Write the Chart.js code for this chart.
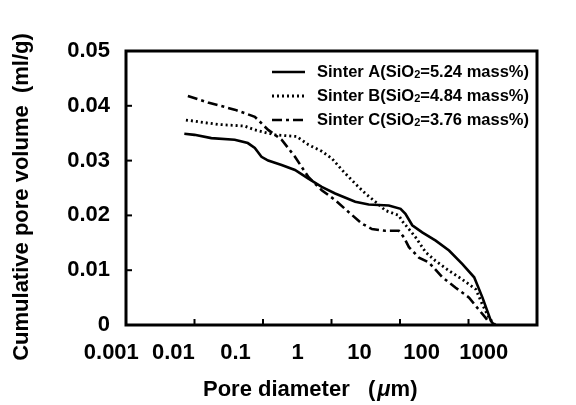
<!DOCTYPE html>
<html>
<head>
<meta charset="utf-8">
<script src="https://cdn.jsdelivr.net/npm/chart.js@4"></script>
<style>
  body { margin: 0; background: #fff; }
  #wrap { width: 576px; height: 405px; }
</style>
</head>
<body>
<div id="wrap"><canvas id="pore-chart" width="576" height="405"></canvas></div>
<script>
// pore diameter (um) and cumulative pore volume (ml/g)
const sinterA_d = [0.0071, 0.01, 0.0176, 0.0386, 0.060, 0.076, 0.095, 0.119, 0.187, 0.293, 0.46, 0.72, 1.13, 2.22, 3.49, 6.86, 10.2, 12.0, 15.1, 21.1, 33.2, 52, 81.5, 121, 160, 213, 238];
const sinterA_v = [0.0349, 0.0347, 0.0341, 0.0338, 0.0332, 0.0323, 0.0307, 0.0300, 0.0292, 0.0283, 0.0267, 0.0252, 0.0240, 0.0225, 0.0220, 0.0218, 0.0212, 0.0203, 0.0182, 0.0169, 0.0154, 0.0136, 0.0111, 0.0087, 0.0050, 0.0007, 0];

const sinterB_d = [0.0075, 0.022, 0.054, 0.076, 0.149, 0.31, 0.46, 0.72, 1.01, 1.42, 2.22, 3.12, 4.37, 6.12, 9.6, 10.7, 12.7, 16.9, 23.6, 33, 52, 81.5, 128, 160, 200, 245];
const sinterB_v = [0.0374, 0.0366, 0.0363, 0.0356, 0.0347, 0.0344, 0.0329, 0.0317, 0.0304, 0.0283, 0.0258, 0.0240, 0.0225, 0.0209, 0.0200, 0.0190, 0.0179, 0.0160, 0.0133, 0.0117, 0.0099, 0.0083, 0.0065, 0.0037, 0.0013, 0];

const sinterC_d = [0.008, 0.0157, 0.0386, 0.076, 0.119, 0.187, 0.293, 0.46, 0.72, 1.13, 1.78, 2.79, 3.9, 6.1, 9.6, 11.4, 13.5, 18.9, 26.5, 41.6, 65, 102, 135, 178, 200];
const sinterC_v = [0.0418, 0.0406, 0.0393, 0.0380, 0.0356, 0.0338, 0.0307, 0.0270, 0.0246, 0.0228, 0.0206, 0.0185, 0.0175, 0.0172, 0.0172, 0.0160, 0.0142, 0.0123, 0.0114, 0.0087, 0.0068, 0.0050, 0.0031, 0.0013, 0.0004];

const xTicks = [0.001, 0.01, 0.1, 1, 10, 100, 1000];
const xTickLabels = ['0.001', '0.01', '0.1', '1', '10', '100', '1000'];
const yTicks = [0, 0.01, 0.02, 0.03, 0.04, 0.05];
const yTickLabels = ['0', '0.01', '0.02', '0.03', '0.04', '0.05'];

const legendNames = ['Sinter A(SiO', 'Sinter B(SiO', 'Sinter C(SiO'];
const legendRest = ['=5.24 mass%)', '=4.84 mass%)', '=3.76 mass%)'];

const FONT = '"Liberation Sans", Arial, Helvetica, sans-serif';

function pts(d, v) {
    return d.map((x, i) => ({ x: x, y: v[i] }));
}

const styles = [
    { borderDash: [], borderWidth: 2.6 },
    { borderDash: [2, 3], borderWidth: 2.8 },
    { borderDash: [10, 4, 3, 4], borderWidth: 2.6 }
];

// frame, inward ticks, x labels, titles and legend
const decorPlugin = {
    id: 'decor',
    afterDraw(chart) {
        const ctx = chart.ctx;
        const a = chart.chartArea;
        const xs = chart.scales.x;
        const ys = chart.scales.y;
        ctx.save();
        ctx.strokeStyle = '#000';
        ctx.fillStyle = '#000';

        ctx.lineWidth = 3;
        ctx.strokeRect(a.left, a.top, a.right - a.left, a.bottom - a.top);

        ctx.lineWidth = 2;
        xTicks.slice(1, -1).forEach(t => {
            const px = xs.getPixelForValue(t);
            ctx.beginPath();
            ctx.moveTo(px, a.bottom);
            ctx.lineTo(px, a.bottom - 6);
            ctx.stroke();
        });
        yTicks.slice(1, -1).forEach(t => {
            const py = ys.getPixelForValue(t);
            ctx.beginPath();
            ctx.moveTo(a.left, py);
            ctx.lineTo(a.left + 6, py);
            ctx.stroke();
        });

        // x tick labels sit slightly compressed to the left of the ticks in the original
        ctx.font = 'bold 22px ' + FONT;
        ctx.textAlign = 'center';
        ctx.textBaseline = 'middle';
        const p1 = xs.getPixelForValue(1);
        xTicks.forEach((t, i) => {
            const px = p1 - 34 + 0.906 * (xs.getPixelForValue(t) - p1);
            ctx.fillText(xTickLabels[i], px, a.bottom + 28);
        });

        // x title with italic mu
        ctx.textAlign = 'left';
        ctx.fillText('Pore diameter', 203, 390);
        ctx.fillText('(', 368, 390);
        let w = ctx.measureText('(').width;
        ctx.font = 'italic bold 22px ' + FONT;
        ctx.fillText('\u03bc', 368 + w + 2, 390);
        w += ctx.measureText('\u03bc').width + 2;
        ctx.font = 'bold 22px ' + FONT;
        ctx.fillText('m)', 368 + w, 390);

        // y title
        ctx.save();
        ctx.translate(22, 197);
        ctx.rotate(-Math.PI / 2);
        ctx.textAlign = 'center';
        ctx.fillText('Cumulative pore volume  (ml/g)', 0, 0);
        ctx.restore();

        // legend
        chart.data.datasets.forEach((ds, i) => {
            const y = 72 + i * 24;
            ctx.lineWidth = ds.borderWidth;
            ctx.setLineDash(ds.borderDash);
            ctx.beginPath();
            ctx.moveTo(272, y);
            ctx.lineTo(305, y);
            ctx.stroke();
            ctx.setLineDash([]);
            ctx.font = 'bold 16.5px ' + FONT;
            ctx.textAlign = 'left';
            let x = 317;
            ctx.fillText(legendNames[i], x, y);
            x += ctx.measureText(legendNames[i]).width;
            ctx.font = 'bold 11px ' + FONT;
            ctx.fillText('2', x, y + 3);
            x += ctx.measureText('2').width;
            ctx.font = 'bold 16.5px ' + FONT;
            ctx.fillText(legendRest[i], x, y);
        });
        ctx.restore();
    }
};

const ctx = document.getElementById('pore-chart').getContext('2d');
new Chart(ctx, {
    type: 'line',
    data: {
        datasets: [
            { label: 'Sinter A', data: pts(sinterA_d, sinterA_v) },
            { label: 'Sinter B', data: pts(sinterB_d, sinterB_v) },
            { label: 'Sinter C', data: pts(sinterC_d, sinterC_v) }
        ].map((ds, i) => Object.assign(ds, styles[i], {
            borderColor: '#000',
            pointRadius: 0,
            fill: false,
            tension: 0
        }))
    },
    options: {
        responsive: false,
        devicePixelRatio: 1,
        animation: false,
        layout: { padding: { top: 51, right: 39, left: 0, bottom: 0 } },
        plugins: {
            legend: { display: false },
            tooltip: { enabled: false }
        },
        scales: {
            x: {
                type: 'logarithmic',
                min: 0.001,
                max: 1000,
                grid: { display: false, drawTicks: false },
                border: { display: false },
                ticks: { display: false },
                afterFit: s => { s.height = 80; }
            },
            y: {
                type: 'linear',
                min: 0,
                max: 0.05,
                grid: { display: false, drawTicks: false },
                border: { display: false },
                afterBuildTicks: s => { s.ticks = yTicks.map(v => ({ value: v })); },
                ticks: {
                    color: '#000',
                    padding: 16,
                    font: { family: FONT, size: 22, weight: 'bold' },
                    callback: (v) => yTickLabels[yTicks.indexOf(v)]
                },
                afterFit: s => { s.width = 126; }
            }
        }
    },
    plugins: [decorPlugin]
});
</script>
</body>
</html>
